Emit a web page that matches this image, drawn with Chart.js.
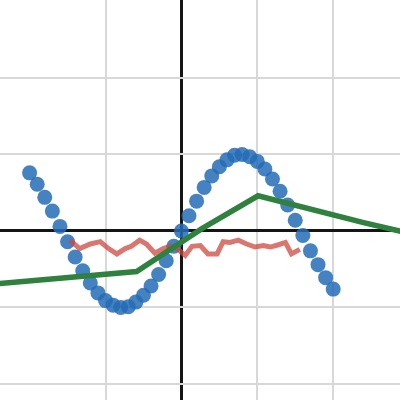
<!DOCTYPE html>
<html>
<head>
<meta charset="utf-8">
<script src="https://cdn.jsdelivr.net/npm/chart.js@4"></script>
<style>
  html, body { margin: 0; padding: 0; background: #fff; }
  #wrap { width: 400px; height: 400px; }
</style>
</head>
<body>
<div id="wrap"><canvas id="plot"></canvas></div>
<script>
// blue dots
const dotX = [-2.0, -1.9, -1.8, -1.7, -1.6, -1.5, -1.4, -1.3, -1.2, -1.1, -1.0,
  -0.9, -0.8, -0.7, -0.6, -0.5, -0.4, -0.3, -0.2, -0.1, 0.0,
  0.1, 0.2, 0.3, 0.4, 0.5, 0.6, 0.7, 0.8, 0.9, 1.0,
  1.1, 1.2, 1.3, 1.4, 1.5, 1.6, 1.7, 1.8, 1.9, 2.0];
const dotY = [0.76, 0.61, 0.44, 0.26, 0.06, -0.14, -0.34, -0.52, -0.68, -0.81, -0.91,
  -0.97, -1.0, -0.99, -0.93, -0.84, -0.72, -0.57, -0.39, -0.2, 0.0,
  0.2, 0.39, 0.57, 0.72, 0.84, 0.93, 0.99, 1.0, 0.97, 0.91,
  0.81, 0.68, 0.52, 0.34, 0.14, -0.06, -0.26, -0.44, -0.61, -0.76];

// red noisy line
const noiseX = [-1.47, -1.34, -1.2, -1.07, -0.96, -0.85, -0.74, -0.66, -0.55, -0.46,
  -0.35, -0.24, -0.15, -0.06, 0.05, 0.14, 0.25, 0.35, 0.47, 0.55,
  0.64, 0.75, 0.86, 0.97, 1.08, 1.17, 1.28, 1.37, 1.45, 1.56];
const noiseY = [-0.12, -0.23, -0.17, -0.14, -0.23, -0.3, -0.23, -0.2, -0.12, -0.17,
  -0.29, -0.23, -0.2, -0.23, -0.32, -0.2, -0.19, -0.3, -0.3, -0.14,
  -0.15, -0.12, -0.17, -0.21, -0.19, -0.21, -0.18, -0.15, -0.3, -0.24];

// green polyline
const trendX = [-3, -0.59, 0.27, 1.01, 2.4, 3];
const trendY = [-0.74, -0.53, 0.03, 0.46, 0.11, -0.03];

const pts = (xs, ys) => xs.map((x, i) => ({ x: x, y: ys[i] }));

const gridColor = (ctx) => (ctx.tick && ctx.tick.value === 0 ? "#151515" : "#d8d8d8");
const gridWidth = (ctx) => (ctx.tick && ctx.tick.value === 0 ? 3 : 2);
const keepIntegers = (axis) => {
  axis.ticks = axis.ticks.filter((t) => Number.isInteger(t.value));
};

new Chart(document.getElementById("plot"), {
  type: "scatter",
  data: {
    datasets: [
      {
        data: pts(trendX, trendY),
        showLine: true,
        borderColor: "rgb(48, 128, 62)",
        borderWidth: 5.5,
        pointRadius: 0,
        order: 0,
      },
      {
        data: pts(noiseX, noiseY),
        showLine: true,
        borderColor: "rgba(205, 72, 64, 0.75)",
        borderWidth: 5,
        pointRadius: 0,
        order: 1,
      },
      {
        data: pts(dotX, dotY),
        backgroundColor: "rgba(36, 108, 182, 0.85)",
        borderWidth: 0,
        pointRadius: 7.5,
        order: 2,
      },
    ],
  },
  options: {
    responsive: true,
    maintainAspectRatio: false,
    animation: false,
    layout: { padding: 0, autoPadding: false },
    plugins: { legend: { display: false }, tooltip: { enabled: false } },
    scales: {
      x: {
        type: "linear",
        min: -2.39,
        max: 2.88,
        ticks: { display: false, stepSize: 1 },
        afterBuildTicks: keepIntegers,
        border: { display: false },
        grid: { color: gridColor, lineWidth: gridWidth, drawTicks: false },
      },
      y: {
        type: "linear",
        min: -2.21,
        max: 3.02,
        ticks: { display: false, stepSize: 1 },
        afterBuildTicks: keepIntegers,
        border: { display: false },
        grid: { color: gridColor, lineWidth: gridWidth, drawTicks: false },
      },
    },
  },
});
</script>
</body>
</html>
